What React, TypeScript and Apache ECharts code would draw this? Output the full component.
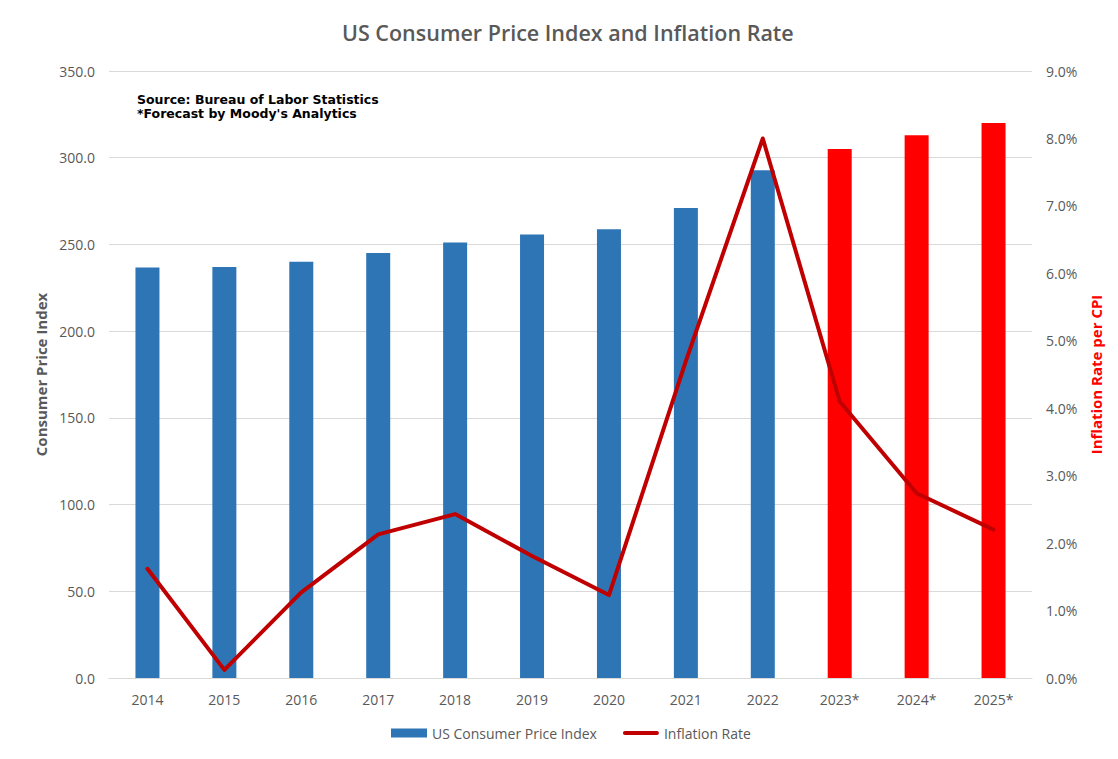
import React, { useEffect, useRef } from "react";
import * as echarts from "echarts";

const categories = ["2014", "2015", "2016", "2017", "2018", "2019", "2020", "2021", "2022", "2023*", "2024*", "2025*"];
const cpiValues = [236.7, 237.0, 240.0, 245.1, 251.1, 255.7, 258.8, 271.0, 292.7, 305.0, 313.0, 320.0];
const forecastFlags = [false, false, false, false, false, false, false, false, false, true, true, true];
const inflationValues = [1.62, 0.12, 1.27, 2.13, 2.43, 1.81, 1.23, 4.7, 8.0, 4.1, 2.74, 2.2];
const leftTicks = { min: 0, max: 350, interval: 50 };
const rightTicks = { min: 0, max: 9, interval: 1 };

const FONT = "'Open Sans', 'Liberation Sans', sans-serif";
const GRAY = "#595959";
const LINE_ICON = "path://M0,0 M36,9 M2,2.5 L34,2.5 A2,2 0 0 1 34,6.5 L2,6.5 A2,2 0 0 1 2,2.5 Z";

export default function App() {
  const ref = useRef<HTMLDivElement>(null);
  useEffect(() => {
    if (!ref.current) return;
    const chart = echarts.init(ref.current, undefined, { renderer: "svg" });
    chart.setOption({
      animation: false,
      backgroundColor: "#ffffff",
      title: {
        text: "US Consumer Price Index and Inflation Rate",
        left: 337,
        top: 16,
        textStyle: { fontFamily: FONT, fontSize: 21.5, fontWeight: 600, color: GRAY },
      },
      graphic: [
        {
          type: "rect",
          shape: { x: 5.5, y: 3.5, width: 1108, height: 752 },
          style: { fill: "none", stroke: "#d9d9d9", lineWidth: 1 },
          silent: true,
        },
        {
          type: "text",
          left: 137,
          top: 92,
          style: {
            text: "Source: Bureau of Labor Statistics\n*Forecast by Moody's Analytics",
            font: "bold 12.5px 'DejaVu Sans', sans-serif",
            fill: "#000000",
            lineHeight: 14,
          },
        },
      ],
      legend: {
        bottom: 14,
        left: 386,
        itemWidth: 36,
        itemHeight: 9,
        itemGap: 26,
        textStyle: { fontFamily: FONT, fontSize: 14, color: GRAY },
        data: [
          { name: "US Consumer Price Index", icon: "rect" },
          { name: "Inflation Rate", icon: LINE_ICON },
        ],
      },
      grid: { left: 109, right: 86, top: 71, bottom: 81 },
      xAxis: {
        type: "category",
        data: categories,
        axisLine: { show: true, lineStyle: { color: "#d9d9d9", width: 1 } },
        axisTick: { show: false },
        axisLabel: { fontFamily: FONT, fontSize: 14, color: GRAY, margin: 14 },
      },
      yAxis: [
        {
          type: "value",
          min: leftTicks.min,
          max: leftTicks.max,
          interval: leftTicks.interval,
          name: "Consumer Price Index",
          nameLocation: "middle",
          nameGap: 61,
          nameTextStyle: { fontFamily: FONT, fontSize: 15, fontWeight: "bold", color: GRAY },
          axisLine: { show: false },
          axisTick: { show: false },
          axisLabel: {
            fontFamily: FONT,
            fontSize: 14,
            color: GRAY,
            margin: 14,
            formatter: (v: number) => v.toFixed(1),
          },
          splitLine: { lineStyle: { color: "#d9d9d9", width: 1 } },
        },
        {
          type: "value",
          min: rightTicks.min,
          max: rightTicks.max,
          interval: rightTicks.interval,
          name: "Inflation Rate per CPI",
          nameLocation: "middle",
          nameGap: 56,
          nameRotate: 90,
          nameTextStyle: { fontFamily: FONT, fontSize: 15, fontWeight: "bold", color: "#ff0000" },
          axisLine: { show: false },
          axisTick: { show: false },
          splitLine: { show: false },
          axisLabel: {
            fontFamily: FONT,
            fontSize: 14,
            color: GRAY,
            margin: 14,
            formatter: (v: number) => v.toFixed(1) + "%",
          },
        },
      ],
      series: [
        {
          name: "US Consumer Price Index",
          type: "bar",
          yAxisIndex: 0,
          barWidth: 24,
          itemStyle: { color: "#2e75b6" },
          data: cpiValues.map((v, i) => ({
            value: v,
            itemStyle: { color: forecastFlags[i] ? "#ff0000" : "#2e75b6" },
          })),
        },
        {
          name: "Inflation Rate",
          type: "line",
          yAxisIndex: 1,
          symbol: "none",
          lineStyle: { color: "#c00000", width: 4, cap: "round", join: "round" },
          itemStyle: { color: "#c00000" },
          data: inflationValues,
        },
      ],
    });
    return () => chart.dispose();
  }, []);
  return <div ref={ref} style={{ width: 1118, height: 759, margin: -8 }} />;
}
